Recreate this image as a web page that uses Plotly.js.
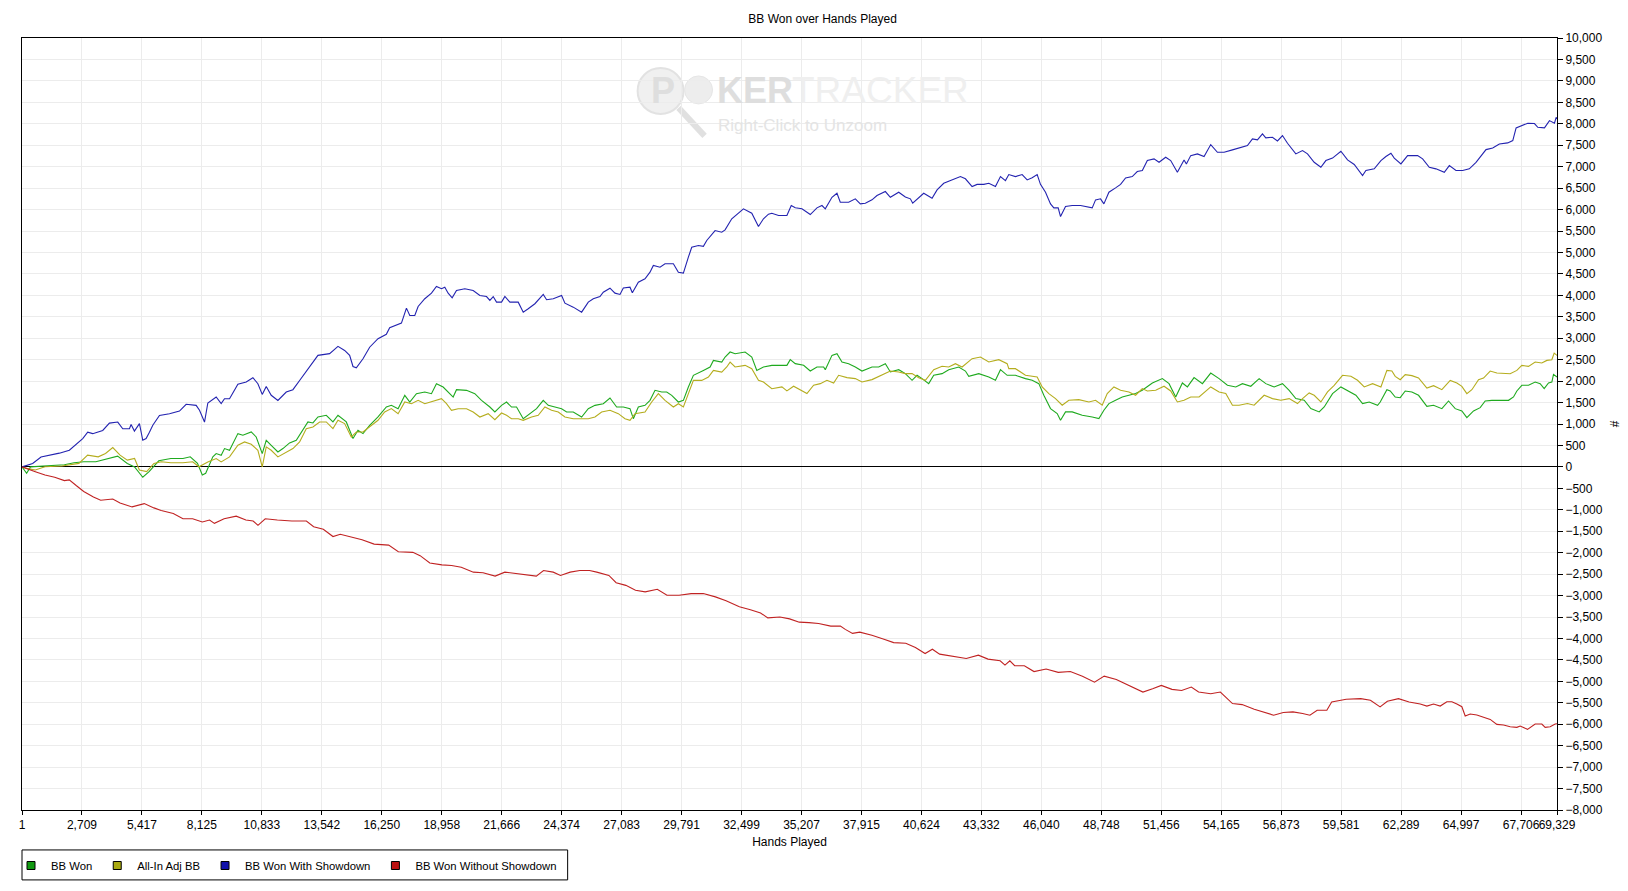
<!DOCTYPE html>
<html>
<head>
<meta charset="utf-8">
<script src="https://cdn.plot.ly/plotly-3.0.1.min.js"></script>
<style>
html,body{margin:0;padding:0;background:#fff;}
#chart{width:1628px;height:891px;}
</style>
</head>
<body>
<div id="chart"></div>
<script>
// ---------- DATA (hands played -> cumulative big blinds) ----------
const tickHands = [1,2709,5417,8125,10833,13542,16250,18958,21666,24374,27083,29791,32499,35207,37915,40624,43332,46040,48748,51456,54165,56873,59581,62289,64997,67706,69329];
const tickLabels = ["1","2,709","5,417","8,125","10,833","13,542","16,250","18,958","21,666","24,374","27,083","29,791","32,499","35,207","37,915","40,624","43,332","46,040","48,748","51,456","54,165","56,873","59,581","62,289","64,997","67,706","69,329"];

const seriesNames = ["BB Won","All-In Adj BB","BB Won With Showdown","BB Won Without Showdown"];

const bbWonHands = [1,210,385,931,1915,2352,2789,3336,3992,4320,4757,5085,5456,5741,6178,6724,7271,7599,7927,8145,8298,
8620,8771,8997,9148,9374,9751,9977,10354,10579,10851,11032,11257,11559,11785,12086,12388,12689,12915,13141,13367,13744,14045,14272,14648,14950,15176,15402,15703,16080,16457,16683,
16987,17289,17515,17816,18193,18494,18720,19022,19323,19474,19625,20077,20454,20755,21132,21358,21659,21885,22111,22337,22639,22940,23241,23543,23769,24070,24372,24598,24899,25276,25577,25879,26255,26557,26858,27160,27461,27612,27838,28139,28365,28591,28893,29119,29345,29646,29872,30098,30324,30776,31078,31229,31605,31756,31982,32208,32660,32962,33188,33489,33866,
34548,34699,34925,35302,35603,35905,36206,36281,36583,36809,37035,37336,37638,37939,38391,38693,38994,39220,39597,39898,40200,40426,40652,40953,41179,41556,41857,42309,42611,42761,43214,43666,43967,44193,44495,44871,45323,45625,45926,46152,46454,46755,46906,47132,47433,47885,48337,48639,48865,49091,49392,49694,49995,50296,50598,
51053,51505,51807,52108,52410,52636,52937,53314,53690,54067,54444,54821,55122,55499,55876,56177,56554,56931,57232,57533,57910,58211,58588,58814,59191,59568,59869,60246,60547,60849,61226,
61345,61646,61797,62022,62248,62474,62775,63076,63452,63753,64129,64430,64731,65032,65258,65559,65860,66086,66387,66763,67139,67365,67516,67741,68042,68343,68569,68750,68945,69096,69171,69329];
const bbWonValues = [0,-149,0,23,50,97,120,120,196,250,81,0,-242,-110,143,196,196,235,81,-187,-149,
233,310,272,427,388,776,737,815,698,310,621,504,349,427,559,621,854,1048,1025,1165,1203,1048,1203,1048,660,854,776,970,1165,1398,1437,
1357,1668,1513,1707,1746,1707,1940,1862,1707,1629,1800,1785,1707,1552,1396,1280,1435,1513,1396,1396,1124,1241,1357,1552,1435,1396,1357,1280,1280,1163,1357,1435,1474,1606,1396,1396,1357,1124,1396,1435,1552,1785,1746,1746,1668,1513,1552,1862,2134,2250,2329,2483,2444,2561,2679,2638,2679,2561,2250,2329,2367,
2368,2500,2407,2368,2235,2329,2329,2267,2600,2639,2445,2407,2329,2235,2329,2329,2407,2213,2267,2174,2019,2135,2058,1941,2135,2174,2267,2329,2235,2112,2174,2096,2019,2267,2135,2135,2058,2019,1941,1670,1359,1243,1088,1282,1282,1204,1165,1126,1320,1476,1553,1631,1670,1709,1786,
1957,2058,1941,1629,1957,1864,2081,1941,2188,2058,1903,1864,1941,1880,2058,1941,1864,1941,1786,1592,1553,1359,1282,1398,1709,1864,1786,1670,1476,1514,1437,
1512,1801,1770,1630,1614,1770,1746,1669,1413,1436,1358,1537,1358,1304,1148,1304,1382,1537,1552,1552,1552,1630,1770,1902,1902,1978,1940,1823,1955,1978,2157,2095];

const allInHands = [1,210,603,1041,1806,2571,2964,3445,3773,4101,4429,4757,5085,5303,5631,5959,6287,6724,7271,7708,7992,
8394,8771,8997,9374,9751,10052,10354,10655,10851,11032,11257,11559,11936,12237,12539,12840,13141,13443,13744,14045,14272,14573,14874,15101,15402,15703,16080,16381,16683,
16987,17289,17590,17892,18193,18645,18947,19173,19399,19700,20077,20378,20680,21056,21358,21659,21885,22111,22413,22639,23015,23317,23618,23920,24221,24522,24899,25276,25577,25879,26180,26557,26934,27235,27461,27687,28139,28441,28742,29043,29420,29646,29872,30098,30324,30701,31003,31229,31605,31831,31982,32208,32660,32962,33263,33489,33866,
34322,34548,34850,35151,35452,35754,36055,36357,36658,36884,37261,37638,37939,38391,38843,39220,39597,39898,40200,40501,40802,41179,41556,41857,42159,42460,42912,43289,43666,44118,44495,44570,44871,45323,45851,46077,46378,46680,46981,47282,47735,48187,48488,48789,49015,49317,49618,49995,50296,50598,
50827,51204,51581,51882,52183,52485,52786,53163,53690,54067,54369,54670,54971,55348,55650,56102,56478,56855,57232,57609,57835,58136,58362,58664,58965,59266,59643,60020,60321,60623,61000,61376,
61646,61872,62022,62248,62474,62775,63076,63452,63753,64129,64506,64807,65032,65258,65484,65785,66011,66312,66613,66989,67215,67516,67741,68042,68343,68644,68870,69096,69201,69329];
const allInValues = [0,-34,-72,4,19,81,274,235,312,450,274,158,196,-72,-110,81,120,97,97,120,4,
116,194,116,233,504,582,528,388,0,466,388,233,349,427,582,892,931,1048,1048,892,1087,1009,698,815,815,931,1087,1281,1359,
1241,1513,1474,1552,1474,1536,1590,1474,1319,1357,1357,1280,1163,1241,1100,1256,1202,1124,1124,1085,1163,1202,1396,1319,1280,1163,1124,1124,1124,1163,1280,1319,1241,1124,1085,1241,1280,1513,1707,1552,1396,1474,1396,1707,2017,2017,2095,2250,2211,2329,2444,2329,2367,2289,2017,1979,1823,
1864,1771,1880,1786,1709,1903,1941,2019,1957,2135,2081,2058,1980,2035,2135,2235,2213,2174,2174,2081,2019,2267,2345,2329,2407,2329,2523,2562,2445,2500,2407,2290,2290,2135,2096,1864,1709,1592,1437,1553,1569,1514,1553,1437,1709,1864,1786,1747,1670,1825,
1771,1786,1880,1771,1514,1553,1631,1631,1864,1747,1709,1437,1437,1476,1437,1670,1592,1553,1592,1476,1592,1724,1670,1514,1747,1903,2135,2112,2019,1864,1941,1864,
2250,2235,2111,2033,2150,2127,2072,1838,1893,1800,2017,1955,1877,1707,1800,2033,2072,2235,2188,2188,2172,2250,2367,2344,2445,2421,2483,2499,2654,2600];

const showdownHands = [1,483,859,1236,1688,2140,2743,2969,3195,3647,3949,4326,4551,4853,4928,5079,5305,5456,5606,5757,5908,6209,6661,7113,7415,7867,8018,8244,8394,8771,8997,9148,9374,9751,10127,10429,10655,10851,11032,11257,11559,11936,12237,12539,12915,13367,13895,14272,14573,14799,14950,15101,15402,15703,16080,16457,16607,16909,
17138,17364,17515,17741,17892,18193,18494,18720,18947,19097,19248,19429,19625,20001,20378,20680,20981,21132,21283,21433,21659,21810,22036,22413,22639,22865,23166,23543,23694,23995,24372,24522,24899,25276,25577,25803,26104,26255,26557,26783,27009,27160,27461,27567,27838,28139,28365,28516,28817,29043,29420,29646,29872,30098,30249,30550,30776,30927,31304,31605,31756,32057,32358,32585,32962,33263,33489,33715,33866,
34172,34548,34744,34925,35226,35603,35905,36131,36281,36583,36809,36959,37336,37638,37864,38090,38391,38617,38994,39220,39597,39898,40124,40230,40501,40727,41104,41330,41631,42008,42385,42611,42912,43138,43440,43666,43967,44193,44419,44570,44871,45173,45399,45625,45851,46001,46228,46454,46604,46800,46906,47132,47433,47810,48111,48337,48488,48714,48865,49091,49392,49618,49844,50146,50372,
50601,50827,51129,51355,51656,51882,52183,52485,52590,52786,53087,53389,53690,53992,54293,54670,55122,55348,55574,55800,56026,56177,56478,56704,56931,57157,57533,57835,58061,58362,58664,58890,59191,59568,59869,60171,60547,60698,61075,61376,61602,61828,61979,62280,62582,63034,63260,63561,63863,64239,64466,64767,65068,65370,65671,66123,66425,66726,67102,
67332,67482,67708,68010,68311,68462,68763,68989,69215,69290,69329];
const showdownValues = [0,80,230,270,320,390,660,810,775,850,1020,1045,890,890,990,835,1010,620,660,810,970,1200,1240,1300,1460,1435,1320,1045,1490,1630,1475,1590,1590,1925,1980,2080,1940,1690,1875,1670,1550,1745,1800,2015,2290,2600,2640,2810,2715,2600,2340,2310,2520,2790,2990,3090,3245,3300,
3352,3702,3531,3531,3741,3921,4051,4207,4154,4190,4051,3944,4114,4154,4114,3997,3971,3881,3971,3841,3841,3974,3841,3841,3608,3687,3804,4021,3897,3921,3997,3818,3725,3608,3841,3921,3971,4074,4167,4051,4021,4170,4190,4060,4307,4386,4540,4696,4657,4736,4736,4540,4518,4889,5122,5162,5142,5278,5511,5473,5526,5784,5914,6017,5914,5605,5784,5893,5914,
5861,5861,6094,6040,6017,5884,6040,6094,6017,6287,6380,6171,6171,6250,6133,6148,6226,6327,6420,6287,6404,6295,6250,6148,6287,6380,6264,6459,6613,6692,6769,6717,6536,6587,6587,6613,6536,6769,6676,6816,6769,6816,6692,6743,6816,6587,6404,6133,6040,6040,5837,6071,6094,6094,6071,6040,6226,6250,6133,6404,6506,6587,6738,6769,6886,
6910,7142,7181,7102,7219,7142,6869,7157,7064,7258,7298,7236,7515,7335,7335,7391,7468,7491,7648,7625,7764,7671,7686,7600,7725,7546,7298,7375,7298,7102,6986,7142,7200,7360,7157,7051,6793,6910,6949,7142,7236,7313,7200,7064,7258,7258,7181,6986,6949,6869,7025,6910,6910,6949,7102,7398,7437,7530,7554,
7608,7904,7957,8013,8005,7918,7904,8074,8013,8150,8111];

const noShowdownHands = [1,166,603,1041,1478,1915,2134,2462,2789,3227,3555,4101,4429,4975,5522,5959,6287,6834,7271,7708,8145,8473,8692,9129,9676,10113,10440,10659,10987,11533,12189,12845,13173,13610,14047,14375,14812,15359,15905,16561,16998,17654,17982,18419,18966,19403,19840,20387,20824,21370,21808,22463,22901,23229,23556,23994,24322,24759,25196,25633,25961,26508,26835,27273,27710,28147,28694,29131,29678,30225,30771,31318,
31800,32400,32900,
33358,33686,34232,34670,35107,35544,35981,36528,36965,37184,37511,37839,38386,38932,39370,39916,40353,40790,41118,41446,41993,42649,43195,43632,44179,44397,44616,44835,45272,45709,46256,46802,47348,47895,48441,48879,49425,49972,50627,51065,51458,51939,52376,52813,53141,53688,54125,54672,55109,55655,56092,56530,56967,57404,57841,58169,58497,58934,59153,59809,60464,60902,61339,61667,62169,62650,
63151,63452,63753,64054,64355,64581,64807,65032,65183,65409,65710,66011,66312,66613,66914,67215,67516,67666,67997,68343,68644,68795,69021,69247,69329];
const noShowdownValues = [0,-34,-111,-188,-242,-319,-303,-441,-572,-702,-779,-749,-841,-933,-856,-956,-1018,-1087,-1210,-1210,-1286,-1240,-1317,-1210,-1148,-1240,-1263,-1363,-1210,-1240,-1263,-1263,-1394,-1455,-1624,-1570,-1624,-1701,-1801,-1824,-1978,-1993,-2070,-2239,-2285,-2300,-2339,-2454,-2470,-2547,-2454,-2493,-2531,-2547,-2416,-2454,-2531,-2454,-2416,-2416,-2454,-2531,-2700,-2762,-2877,-2915,-2854,-2992,-2992,-2954,-2954,-3031,
-3120,-3260,-3330,
-3406,-3521,-3499,-3544,-3620,-3630,-3652,-3713,-3713,-3789,-3882,-3853,-3927,-4020,-4097,-4113,-4213,-4351,-4251,-4366,-4405,-4467,-4390,-4482,-4520,-4621,-4520,-4636,-4636,-4772,-4713,-4790,-4772,-4879,-5019,-4879,-4956,-5095,-5250,-5173,-5095,-5187,-5212,-5134,-5250,-5288,-5250,-5519,-5542,-5650,-5712,-5789,-5727,-5712,-5750,-5789,-5673,-5673,-5481,-5419,-5404,-5442,-5596,-5465,-5404,-5481,
-5530,-5577,-5530,-5577,-5475,-5475,-5530,-5592,-5809,-5762,-5786,-5840,-5887,-6003,-6019,-6058,-6073,-6042,-6120,-5996,-5996,-6073,-6058,-5996,-5990];

// ---------- STYLE ----------
const colors = ["#1faa1f","#b5ad1e","#2323b0","#c02222"];
const legendColors = ["#119911","#aaaa11","#1111aa","#bb1111"];
const FONT = "Liberation Sans, Arial, sans-serif";

const hands = [bbWonHands, allInHands, showdownHands, noShowdownHands];
const vals = [bbWonValues, allInValues, showdownValues, noShowdownValues];

const traces = [];
for (let i = 0; i < 4; i++) {
  traces.push({
    x: hands[i], y: vals[i], type: 'scatter', mode: 'lines',
    line: {color: colors[i], width: 1.1},
    showlegend: false, hoverinfo: 'skip'
  });
}
for (let i = 0; i < 4; i++) {
  traces.push({
    x: [null], y: [null], type: 'scatter', mode: 'markers', name: seriesNames[i],
    marker: {symbol: 'square', size: 8, color: legendColors[i], line: {color: '#000', width: 1}},
    showlegend: true, hoverinfo: 'skip'
  });
}

// plot area in pixels
const L = 21, R = 1557, T = 38, B = 811;
const px = x => (x - L) / (R - L);
const py = y => 1 - (y - T) / (B - T);

const layout = {
  width: 1628, height: 891,
  margin: {l: L, r: 1628 - R, t: T, b: 891 - B, pad: 0},
  paper_bgcolor: '#fff', plot_bgcolor: '#fff',
  font: {family: FONT, size: 12, color: '#000'},
  title: {text: 'BB Won over Hands Played', font: {family: FONT, size: 12, color: '#000'},
          x: 0.5053, xanchor: 'center', y: 1 - 19 / 891, yanchor: 'middle', xref: 'container', yref: 'container'},
  xaxis: {
    range: [1, 69329], tickvals: tickHands, ticktext: tickLabels, tickangle: 0,
    showgrid: true, gridcolor: '#ececec', gridwidth: 1,
    showline: true, linecolor: '#000', linewidth: 1, mirror: true,
    ticks: 'outside', ticklen: 4, tickcolor: '#000', tickfont: {family: FONT, size: 12, color: '#000'},
    zeroline: false,
    title: {text: 'Hands Played', font: {family: FONT, size: 12, color: '#000'}, standoff: 6}
  },
  yaxis: {
    side: 'right', range: [-8000, 10000], dtick: 500, tick0: 0, tickformat: ',d',
    showgrid: true, gridcolor: '#ececec', gridwidth: 1,
    showline: true, linecolor: '#000', linewidth: 1, mirror: true,
    ticks: 'outside', ticklen: 5, tickcolor: '#000', tickfont: {family: FONT, size: 12, color: '#000'},
    zeroline: true, zerolinecolor: '#000', zerolinewidth: 1,
    title: {text: '#', font: {family: FONT, size: 12, color: '#000'}, standoff: 8}
  },
  legend: {
    orientation: 'h', x: -10 / (R - L), xanchor: 'left', y: -(851 - B) / (B - T), yanchor: 'top',
    borderwidth: 0, bgcolor: 'rgba(0,0,0,0)',
    font: {family: FONT, size: 11.3, color: '#000'}, itemwidth: 30,
    traceorder: 'normal'
  },
  shapes: [
    {type: 'rect', xref: 'paper', yref: 'paper', x0: px(21), x1: px(567), y0: py(851), y1: py(881),
     line: {color: '#000', width: 1}, fillcolor: 'rgba(0,0,0,0)'},
    {type: 'circle', xref: 'paper', yref: 'paper', x0: px(637), x1: px(683), y0: py(68), y1: py(114),
     fillcolor: 'rgba(235,235,235,0.75)', line: {color: '#e2e2e2', width: 2}, layer: 'below'},
    {type: 'line', xref: 'paper', yref: 'paper', x0: px(678), y0: py(108), x1: px(704), y1: py(136),
     line: {color: '#e0e0e0', width: 6}, layer: 'below'},
    {type: 'circle', xref: 'paper', yref: 'paper', x0: px(684), x1: px(712), y0: py(76), y1: py(104),
     fillcolor: 'rgba(232,232,232,0.8)', line: {color: '#e6e6e6', width: 1}, layer: 'below'}
  ],
  annotations: [
    {text: '<b>P</b>', xref: 'paper', yref: 'paper', x: px(662), y: py(91), xanchor: 'center', yanchor: 'middle',
     showarrow: false, font: {family: FONT, size: 36, color: '#dedede'}},
    {text: '<b>KER</b>', xref: 'paper', yref: 'paper', x: px(714), y: py(91), xanchor: 'left', yanchor: 'middle',
     showarrow: false, font: {family: FONT, size: 36, color: '#dedede'}},
    {text: 'TRACKER', xref: 'paper', yref: 'paper', x: px(789), y: py(91), xanchor: 'left', yanchor: 'middle',
     showarrow: false, font: {family: FONT, size: 37, color: '#efefef'}},
    {text: 'Right-Click to Unzoom', xref: 'paper', yref: 'paper', x: px(802), y: py(126), xanchor: 'center', yanchor: 'middle',
     showarrow: false, font: {family: FONT, size: 17, color: '#e4e4e4'}}
  ]
};

Plotly.newPlot('chart', traces, layout, {staticPlot: true, displayModeBar: false});
</script>
</body>
</html>
